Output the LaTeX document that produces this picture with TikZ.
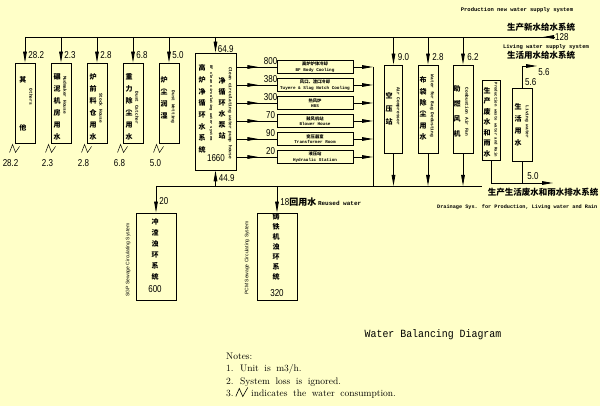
\documentclass[tikz,border=0pt]{standalone}
\usepackage{fontspec}
\usetikzlibrary{arrows.meta,positioning,decorations.markings}
\newfontfamily\cjk{Noto Sans CJK SC}
\newfontfamily\numfont[FakeStretch=0.8]{Liberation Sans}
\newfontfamily\engfont{Liberation Mono}
\newfontfamily\titlefont[FakeStretch=0.9]{Liberation Mono}
\newfontfamily\thinfont{Liberation Sans}
\definecolor{paper}{RGB}{255,255,200}
\newcommand\notefont{\fontsize{9.5}{9.5}\selectfont\spaceskip=5.5pt plus 1pt\relax}
\newcommand\usemark[1]{\draw[line width=0.5pt] ([shift={(-5pt,-9pt)}]#1) -- ++(3,-8) -- ++(3,8) -- ++(4,-6);}
\tikzset{
  pipe/.style={line width=0.9pt},
  flow/.style={line width=0.9pt, -{Triangle[length=11pt,width=3.6pt]}},
  midflow/.style={postaction={decorate}, decoration={markings,
      mark=at position #1 with {\arrow{Triangle[length=11pt,width=3.6pt]}}}},
  box/.style={draw, line width=0.9pt, inner sep=0pt},
  loadbox/.style={box, minimum width=76pt, minimum height=13pt, align=center,
      font=\engfont\bfseries\fontsize{4.3}{5.3}\selectfont},
  num/.style={font=\numfont\fontsize{10}{10}\selectfont, inner sep=0pt},
  zh/.style={font=\cjk\bfseries\fontsize{7}{12}\selectfont, align=center, inner sep=0pt},
  zhbig/.style={font=\cjk\bfseries\fontsize{8.5}{9}\selectfont, inner sep=0pt},
  en/.style={font=\engfont\bfseries\fontsize{4.5}{5}\selectfont, inner sep=0pt},
  captext/.style={font=\engfont\bfseries\fontsize{5.5}{6}\selectfont, inner sep=0pt},
  sidetext/.style={font=\thinfont\fontsize{5}{5}\selectfont, inner sep=0pt, rotate=90},
  note/.style={font=\notefont, inner sep=0pt, anchor=base west}
}
\begin{document}
\begin{tikzpicture}[x=1pt, y=-1pt]
\useasboundingbox (0,0) rectangle (600,406);
\fill[paper] (0,0) rectangle (600,406);

% production new water supply
\coordinate (tl) at (25,37);
\node[num, anchor=west] (q128) at (555,37) {128};
\draw[pipe, midflow=12pt] (q128.west) -- (tl);
\node[captext] at (517,10) {Production new water supply system};
\node[zhbig] at (541,27) {生产新水给水系统};
\node[captext] at (546,47) {Living water supply system};
\node[zhbig] at (541,55) {生活用水给水系统};

% users on the left
\node[box, minimum width=20pt, minimum height=80pt] (oth) at (25,103) {};
\node[box, minimum width=20pt, minimum height=80pt] (mud) at (61,103) {};
\node[box, minimum width=20pt, minimum height=80pt] (stk) at (97,103) {};
\node[box, minimum width=20pt, minimum height=80pt] (dcw) at (133,103) {};
\node[box, minimum width=20pt, minimum height=80pt] (dwt) at (169,103) {};
\node[zh] at (23,80) {其};
\node[zh] at (23,128) {他};
\node[en, rotate=-90] at (31,97) {Others};
\node[zh] at (57,107) {碾\\泥\\机\\房\\用\\水};
\node[en, rotate=-90] at (65,95) {Mudmaker House};
\node[zh] at (93,107) {炉\\前\\料\\仓\\用\\水};
\node[en, rotate=-90] at (101,108) {Stock House};
\node[zh] at (129,107) {重\\力\\除\\尘\\用\\水};
\node[en, rotate=-90] at (137,108) {Dust Catcher};
\node[zh] at (164,98) {炉\\尘\\润\\湿};
\node[en, rotate=-90] at (173,107) {Dust Wetting};
\draw[flow] (oth.north |- tl) -- (oth.north) node[num, pos=.7, right=3pt] {28.2};
\draw[flow] (mud.north |- tl) -- (mud.north) node[num, pos=.7, right=3pt] {2.3};
\draw[flow] (stk.north |- tl) -- (stk.north) node[num, pos=.7, right=3pt] {2.8};
\draw[flow] (dcw.north |- tl) -- (dcw.north) node[num, pos=.7, right=3pt] {6.8};
\draw[flow] (dwt.north |- tl) -- (dwt.north) node[num, pos=.7, right=3pt] {5.0};
\usemark{oth.south west}
\usemark{mud.south west}
\usemark{stk.south west}
\usemark{dcw.south west}
\usemark{dwt.south west}
\node[num] at ([shift={(-4pt,-20pt)}]oth.south west) {28.2};
\node[num] at ([shift={(-3pt,-20pt)}]mud.south west) {2.3};
\node[num] at ([shift={(-3pt,-20pt)}]stk.south west) {2.8};
\node[num] at ([shift={(-3pt,-20pt)}]dcw.south west) {6.8};
\node[num] at ([shift={(-3pt,-20pt)}]dwt.south west) {5.0};

% clean circulating water system
\node[box, minimum width=41pt, minimum height=117pt] (bf) at (215.5,111.5) {};
\node[zh, font=\cjk\bfseries\fontsize{7}{11.7}\selectfont] at (202,109) {高\\炉\\净\\循\\环\\水\\系\\统};
\node[en, font=\engfont\bfseries\fontsize{3.8}{4}\selectfont, rotate=-90] at (211,103) {BF clean circulating water system};
\node[zh, font=\cjk\bfseries\fontsize{7}{11}\selectfont] at (222,108.5) {净\\循\\环\\水\\泵\\站};
\node[en, rotate=-90] at (230,113) {Clean circulating water pump house};
\node[num] at (216,158) {1660};
\draw[flow] (bf.north |- tl) -- (bf.north) node[num, pos=.8, right=2pt] {64.9};

\node[loadbox] (bfc) at (315,67) {{\cjk 高炉炉体冷却}\\BF Body Cooling};
\node[loadbox] (tuy) at (315,85) {{\cjk 风口、渣口冷却}\\Tuyere \& Slag Notch Cooling};
\node[loadbox] (hbs) at (315,103) {{\cjk 热风炉}\\HBS};
\node[loadbox] (blw) at (315,121) {{\cjk 鼓风机站}\\Blower House};
\node[loadbox] (trf) at (315,139) {{\cjk 变压器室}\\Transformer Room};
\node[loadbox] (hyd) at (315,157) {{\cjk 液压站}\\Hydraulic Station};
\draw[pipe, midflow=22pt] (bf.east |- bfc.west) -- node[num, pos=.85, above=2pt] {800} (bfc.west);
\draw[pipe, midflow=22pt] (bf.east |- tuy.west) -- node[num, pos=.85, above=2pt] {380} (tuy.west);
\draw[pipe, midflow=22pt] (bf.east |- hbs.west) -- node[num, pos=.85, above=2pt] {300} (hbs.west);
\draw[pipe, midflow=22pt] (bf.east |- blw.west) -- node[num, pos=.85, above=2pt] {70} (blw.west);
\draw[pipe, midflow=22pt] (bf.east |- trf.west) -- node[num, pos=.85, above=2pt] {90} (trf.west);
\draw[pipe, midflow=22pt] (bf.east |- hyd.west) -- node[num, pos=.85, above=2pt] {20} (hyd.west);
\coordinate (ret) at (373,67);
\coordinate (botl) at (156,186);
\coordinate (botr) at (482,186);
\draw[flow] (bfc.east) -- (bfc.east -| ret);
\draw[flow] (tuy.east) -- (tuy.east -| ret);
\draw[flow] (hbs.east) -- (hbs.east -| ret);
\draw[flow] (blw.east) -- (blw.east -| ret);
\draw[flow] (trf.east) -- (trf.east -| ret);
\draw[flow] (hyd.east) -- (hyd.east -| ret);
\draw[pipe] (ret) -- (ret |- botl);
\draw[pipe] (botl) -- (botr);
\draw[flow] (bf.south |- botl) -- (bf.south) node[num, pos=.5, right=3pt] {44.9};

% sewage systems
\node[box, minimum width=40pt, minimum height=87pt] (sgp) at (156,256.5) {};
\node[zh, font=\cjk\bfseries\fontsize{7}{11}\selectfont] at (155,249.5) {冲\\渣\\浊\\环\\系\\统};
\node[num] at (155,289) {600};
\node[sidetext] at (128,260) {SGP Sewage Circulating System};
\draw[flow] (botl) -- (sgp.north) node[num, pos=.55, right=3pt] {20};
\node[box, minimum width=40pt, minimum height=87pt] (pcm) at (277,256.5) {};
\node[zh, font=\cjk\bfseries\fontsize{7}{10}\selectfont] at (276,247) {铸\\铁\\机\\浊\\环\\系\\统};
\node[num] at (277,293) {320};
\node[sidetext] at (247,258) {PCM Sewage Circulating System};
\draw[flow] (pcm.north |- botl) -- (pcm.north)
  node[num, pos=.6, right=3pt] {18{\cjk\bfseries\fontsize{9}{9}\selectfont 回用水}\,{\engfont\bfseries\fontsize{6}{6}\selectfont Reused water}};

% users on the right
\node[box, minimum width=18pt, minimum height=88pt] (air) at (393.5,109) {};
\node[box, minimum width=20pt, minimum height=88pt] (bag) at (428,109) {};
\node[box, minimum width=20pt, minimum height=88pt] (fan) at (463,109) {};
\node[zh, font=\cjk\bfseries\fontsize{7}{13}\selectfont] at (389,109) {空\\压\\站};
\node[en, rotate=-90] at (398,106) {Air Compressor};
\node[zh, font=\cjk\bfseries\fontsize{7}{11.4}\selectfont] at (423,108.5) {布\\袋\\除\\尘\\用\\水};
\node[en, rotate=-90] at (432,106) {Water for Bag Dedusting};
\node[zh, font=\cjk\bfseries\fontsize{7}{15}\selectfont] at (457,111) {助\\燃\\风\\机};
\node[en, rotate=-90] at (467,112) {Combustion Air Fan};
\draw[flow] (air.north |- tl) -- (air.north) node[num, pos=.72, right=4pt] {9.0};
\draw[flow] (bag.north |- tl) -- (bag.north) node[num, pos=.72, right=4pt] {2.8};
\draw[flow] (fan.north |- tl) -- (fan.north) node[num, pos=.72, right=4pt] {6.2};
\draw[flow] (air.south) -- (air.south |- botl);
\draw[flow] (bag.south) -- (bag.south |- botl);
\draw[flow] (fan.south) -- (fan.south |- botl);

% waste water and living water
\node[box, minimum width=18pt, minimum height=80pt] (pww) at (491,120) {};
\node[zh, font=\cjk\bfseries\fontsize{7}{10.5}\selectfont] at (487,122) {生\\产\\废\\水\\和\\雨\\水};
\node[en, font=\engfont\bfseries\fontsize{4}{4}\selectfont, rotate=-90] at (496,120) {Production waste water and Rain};
\node[box, minimum width=20pt, minimum height=73pt] (liv) at (522,124.5) {};
\node[zh] at (518,125) {生\\活\\用\\水};
\node[en, rotate=-90] at (527,122) {Living water};
\coordinate (livt) at (537,66);
\draw[flow] (liv.north) |- (livt);
\node[num, anchor=west] at (525,82) {5.6};
\node[num] at (544,72) {5.6};
\coordinate (drn) at (553,183);
\draw[flow] (pww.south) |- (drn);
\draw[pipe] (liv.south) -- (liv.south |- drn);
\node[num] at (533,176) {5.0};
\node[zhbig] at (543,192) {生产生活废水和雨水排水系统};
\node[captext, font=\engfont\bfseries\fontsize{5.2}{6}\selectfont, anchor=west] at (437,207) {Drainage Sys. for Production, Living water and Rain};

% title and notes
\node[font=\titlefont\fontsize{11}{11}\selectfont, inner sep=0pt] at (433,335) {Water Balancing Diagram};
\node[note] (nt0) at (226,359) {Notes:};
\node[note] (nt1) at (226,371.5) {1. Unit is m3/h.};
\node[note] (nt2) at (226,384) {2. System loss is ignored.};
\node[note] (nt3) at (226,396.5) {3.};
\node[note] (nt3b) at (251,396.5) {indicates the water consumption.};
\draw[line width=0.6pt] ([xshift=2pt]nt3.base east) -- ++(3.5,-8) -- ++(3.5,8) -- ++(5,-9);
\end{tikzpicture}
\end{document}
